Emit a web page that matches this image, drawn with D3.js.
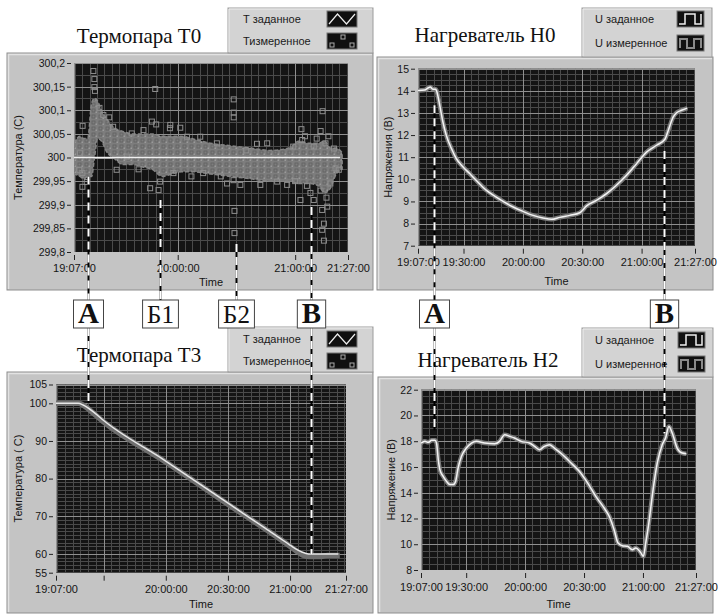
<!DOCTYPE html>
<html><head><meta charset="utf-8">
<script src="https://cdn.jsdelivr.net/npm/d3@7"></script>
<style>body{margin:0;background:#fff}svg{display:block}</style>
</head><body>
<svg id="c" width="718" height="616"></svg>
<script>
// ---------------- DATA ----------------
const timeStart = "19:07:00", timeEnd = "21:27:00";
const ticksHour = ["19:07:00","20:00:00","21:00:00","21:27:00"];
const ticks30 = ["19:07:00","19:30:00","20:00:00","20:30:00","21:00:00","21:27:00"];
const labels30 = ["19:07:00","19:30:00","20:00:00","20:30:00","21:00:00","21:27:00"];
const labelsT3 = ["19:07:00","","20:00:00","20:30:00","21:00:00","21:27:00"];

const yTicksT0 = [299.8,299.85,299.9,299.95,300,300.05,300.1,300.15,300.2];
const yLabelsT0 = ["299,8","299,85","299,9","299,95","300","300,05","300,1","300,15","300,2"];
const yTicksH0 = [7,8,9,10,11,12,13,14,15];
const yTicksT3 = [55,60,70,80,90,100,105];
const yTicksH2 = [8,10,12,14,16,18,20,22];

// T0 (minutes after 19:07) — dense measured band
const t0BandT  = [0,3,5,7,9,10.5,12,14,17,20,25,30,35,40,45,50,55,60,70,80,90,100,110,115,120,125,128,131,134,137];
const t0BandLo = [299.965,299.96,299.955,299.96,299.96,300.0,300.04,300.035,300.01,300.0,299.985,299.985,299.98,299.975,299.96,299.965,299.97,299.97,299.965,299.96,299.955,299.95,299.95,299.945,299.945,299.94,299.925,299.935,299.965,299.975];
const t0BandHi = [300.03,300.045,300.04,300.04,300.115,300.125,300.12,300.1,300.08,300.065,300.055,300.05,300.05,300.05,300.045,300.045,300.045,300.04,300.03,300.025,300.02,300.015,300.02,300.035,300.03,300.03,300.035,300.02,300.02,300.01];
// T0 individual measured squares
const t0PtsT = [4.4,9.9,10.4,10.4,10.7,41.5,81.6,81.6,81.6,82,82,127,126,116.2,127.7,126.8,127.7,126.8,115.7,120.8,4.3,4.3,6.5,38.9,43.2,21.8,44,39.8,42,49,49.2,20,54.3,57.7,64.5,81.5,85,93.5,98.7,95.2,108.9,112,116.6,122.5,128.5,131,132.8,133.6,135.3,129.4,122.5,3.1,2.7,27,29.5,35.5,50.8,66,73,78.2,103.8,118,124,126,129,130,119,113,60,75,88,33,15,18,13];
const t0PtsV = [300.067,300.183,300.166,300.149,300.141,300.145,300.123,300.095,300.085,299.887,299.84,300.098,300.056,300.06,299.824,299.847,299.86,299.889,299.91,299.925,299.967,299.938,299.948,299.935,299.931,299.974,299.949,300.076,300.07,300.062,300.069,300.065,300.063,300.044,300.044,299.952,299.942,300.029,300.03,299.942,299.942,300.023,300.037,300.023,300.03,299.945,300.019,299.977,299.974,299.896,299.91,300.009,299.974,300.002,300.051,300.058,299.967,299.967,300.03,299.945,299.949,300.045,300.04,299.93,299.915,300.045,299.94,299.95,299.96,299.96,300.015,299.975,300.09,300.085,300.105];
// T0 setpoint
const t0SetT = [0,136];
const t0SetV = [300,300];

// H0 heater voltage
const h0T = [0,3.4,5.1,6.2,7.6,8.9,9.3,11,12.6,14.3,16.9,19.4,22.8,26.1,29.5,34.6,39.6,43,48.1,53.1,58.2,63.2,67.5,71.7,76.7,81.8,85.2,90.2,95.3,100.3,105.4,110.5,115.5,120.6,124.8,126.5,129,130.7,133.2,136.1];
const h0V = [14.02,14.04,14.13,14.17,14.07,14.07,14.02,13.34,12.59,11.99,11.39,10.93,10.56,10.26,9.95,9.5,9.2,9.0,8.75,8.55,8.37,8.25,8.19,8.28,8.37,8.49,8.8,9.05,9.35,9.73,10.18,10.71,11.23,11.54,11.81,12.21,12.82,13.01,13.12,13.22];

// T3 thermocouple
const t3SetT = [0,10.7,13.1,17.9,22.7,52.6,82.7,109.1,112.3,115.5,118.7,121.9,136.3];
const t3SetV = [100,100,99.56,97.8,95.56,84.8,73.6,63.8,62.6,61.4,60.5,60,60];
const t3MeasT = [0,11,14,18,23,53,83,109.5,112.5,116,119,122,128,131,137];
const t3MeasV = [100,100,99.2,97.4,95.1,84.4,73.2,63.4,62.2,60.8,59.7,59.3,59.3,59.6,59.6];

// H2 heater voltage
const h2T = [0,2,3.7,5.4,7.1,7.9,8.8,9.6,11.3,13,14.7,16.4,17.6,18.9,20.6,23.1,25.7,28.2,32.4,37.5,40,42.6,45.1,47.6,51,55.2,57.8,60.3,62.8,65.4,67.9,72.1,76.4,80.6,84.8,89,93.2,95.8,98.3,100.3,102.5,105.1,107.6,109.3,111.8,113.2,114.4,116,117.7,120.3,122.8,124.5,126.2,127.9,130.4,133,135.1];
const h2V = [17.86,17.99,17.91,18.07,18.07,17.86,16.57,15.79,15.27,14.88,14.63,14.63,14.88,15.92,16.83,17.47,17.86,17.99,17.86,17.81,17.99,18.51,18.38,18.25,17.99,17.86,17.6,17.34,17.6,17.73,17.47,16.95,16.31,15.66,14.76,13.72,12.82,12.17,11.13,10.1,9.89,9.84,9.58,9.71,9.37,9.06,10.1,11.65,13.72,16.31,17.73,18.25,19.15,18.64,17.47,17.08,17.03];

// annotation markers (minutes on the top panels' time axes)
const marksLeft = ["А","Б1","Б2","В"];
const marksLeftT = [6.9,43.8,82.9,121.1];
const marksLeftTopV = [299.96,299.91,299.817,299.895];
const marksLeftBotV = [100,null,null,60];
const marksRight = ["А","В"];
const marksRightT = [7.9,124.2];
const marksRightTopV = [13.35,11.28];
const marksRightBotV = [18.85,18.6];

// ---------------- DRAWING ----------------
const svg = d3.select("#c");
const SANS = "'Liberation Sans', Arial, sans-serif";
const SERIF = "'Liberation Serif', 'Times New Roman', serif";
const parseT = d3.timeParse("%H:%M:%S");
const T0 = parseT(timeStart), T1 = parseT(timeEnd);
const at = m => new Date(T0.getTime() + m * 60000);
const zip = (a, b) => a.map((d, i) => [d, b[i]]);
let clipId = 0;

// texture for the dense cloud of square markers
const defs = svg.append("defs");
const pat = defs.append("pattern").attr("id", "sq").attr("patternUnits", "userSpaceOnUse")
  .attr("width", 7).attr("height", 6);
pat.append("rect").attr("width", 7).attr("height", 6).attr("fill", "#7d7d7d");
pat.append("rect").attr("x", 1).attr("y", 1).attr("width", 3).attr("height", 3)
  .attr("fill", "none").attr("stroke", "#606060").attr("stroke-width", 0.8);
pat.append("rect").attr("x", 4.5).attr("y", 3.5).attr("width", 1.5).attr("height", 1.5).attr("fill", "#9a9a9a");

function drawPanel(c) {
  const g = svg.append("g");
  g.append("rect").attr("x", c.px).attr("y", c.py).attr("width", c.pw).attr("height", c.ph)
    .attr("fill", "#c4c4c4").attr("stroke", "#8e8e8e").attr("stroke-width", 1);
  g.append("path").attr("d", `M${c.px+1.5},${c.py+c.ph-1}V${c.py+1.5}H${c.px+c.pw-1}`)
    .attr("fill", "none").attr("stroke", "#e2e2e2").attr("stroke-width", 1.5);
  const L = c.legend;
  g.append("rect").attr("x", L.x).attr("y", L.y).attr("width", L.w).attr("height", L.h)
    .attr("fill", "#d3d3d3").attr("stroke", "#9c9c9c");
  g.append("path").attr("d", `M${L.x+1},${L.y+L.h-1}V${L.y+1}H${L.x+L.w-1}`)
    .attr("fill", "none").attr("stroke", "#eeeeee");
  L.labels.forEach((t, i) => {
    g.append("text").attr("x", L.x + L.tx).attr("y", L.y + L.base[i]).text(t)
      .attr("font-family", SANS).attr("font-size", 11).attr("fill", "#1a1a1a");
    const ix = L.x + L.ix, iy = L.y + L.iy[i];
    g.append("rect").attr("x", ix).attr("y", iy).attr("width", L.iw).attr("height", 16)
      .attr("fill", "#101010").attr("stroke", "#777");
    L.icon(g, ix, iy, i, L.iw);
  });
  g.append("text").attr("x", c.titleX).attr("y", c.titleY).attr("text-anchor", "middle")
    .attr("font-family", SERIF).attr("font-size", 21).attr("fill", "#111").text(c.title);

  const x = d3.scaleTime().domain([T0, T1]).range([c.x0, c.x1]);
  const y = d3.scaleLinear().domain(c.yDomain).range([c.y1, c.y0]);
  g.append("rect").attr("x", c.x0).attr("y", c.y0).attr("width", c.x1 - c.x0).attr("height", c.y1 - c.y0)
    .attr("fill", "#141414");
  const id = "clip" + (clipId++);
  g.append("clipPath").attr("id", id).append("rect")
    .attr("x", c.x0).attr("y", c.y0).attr("width", c.x1 - c.x0).attr("height", c.y1 - c.y0);
  const pg = g.append("g").attr("clip-path", `url(#${id})`);

  const hour = parseT("20:00:00");
  const minorX = d3.range(-16, 24).map(k => new Date(hour.getTime() + k * 225000))
    .filter(d => d > T0 && d < T1);
  const [ya, yb] = c.yDomain;
  const minorY = d3.range(Math.round((yb - ya) / c.yMinor) + 1).map(k => ya + k * c.yMinor);
  pg.selectAll(null).data(minorX).join("line")
    .attr("x1", d => Math.round(x(d)) + 0.5).attr("x2", d => Math.round(x(d)) + 0.5)
    .attr("y1", c.y0).attr("y2", c.y1).attr("stroke", "#4a4a4a").attr("stroke-width", 1);
  pg.selectAll(null).data(minorY).join("line")
    .attr("y1", d => Math.round(y(d)) + 0.5).attr("y2", d => Math.round(y(d)) + 0.5)
    .attr("x1", c.x0).attr("x2", c.x1).attr("stroke", "#4a4a4a").attr("stroke-width", 1);
  pg.selectAll(null).data(c.xTicks.map(parseT)).join("line")
    .attr("x1", d => Math.round(x(d)) + 0.5).attr("x2", d => Math.round(x(d)) + 0.5)
    .attr("y1", c.y0).attr("y2", c.y1).attr("stroke", "#8f8f8f").attr("stroke-width", 1);
  pg.selectAll(null).data(c.yTicks).join("line")
    .attr("y1", d => Math.round(y(d)) + 0.5).attr("y2", d => Math.round(y(d)) + 0.5)
    .attr("x1", c.x0).attr("x2", c.x1).attr("stroke", "#8f8f8f").attr("stroke-width", 1);

  const ax = g.append("g").attr("transform", `translate(${c.x0 - 3},0)`)
    .call(d3.axisLeft(y).tickValues(c.yTicks).tickFormat((d, i) => c.yLabels[i]).tickSize(4).tickPadding(2));
  const bx = g.append("g").attr("transform", `translate(0,${c.y1 + 3})`)
    .call(d3.axisBottom(x).tickValues(c.xTicks.map(parseT)).tickFormat((d, i) => c.xLabels[i]).tickSize(5).tickPadding(c.xPad));
  [ax, bx].forEach(a => {
    a.select(".domain").remove();
    a.selectAll("line").attr("stroke", "#222");
    a.selectAll("text").attr("font-family", SANS).attr("fill", "#151515");
  });
  ax.selectAll("text").attr("font-size", 10.5);
  bx.selectAll("text").attr("font-size", 11);
  g.append("text").attr("transform", `translate(${c.yTitleX},${(c.y0 + c.y1) / 2}) rotate(-90)`)
    .attr("text-anchor", "middle").attr("font-family", SANS).attr("font-size", 11)
    .attr("fill", "#151515").text(c.yTitle);
  g.append("text").attr("x", (c.x0 + c.x1) / 2).attr("y", c.timeY).attr("text-anchor", "middle")
    .attr("font-family", SANS).attr("font-size", 11).attr("fill", "#151515").text("Time");
  return { x, y, pg };
}

const iconWave = (g, ix, iy, i, w) => {
  if (i === 0) {
    g.append("polyline").attr("points", [[ix+2,iy+13],[ix+w*0.35,iy+3],[ix+w*0.65,iy+13],[ix+w-2,iy+3]].join(" "))
      .attr("fill", "none").attr("stroke", "#eee").attr("stroke-width", 1.2);
  } else {
    [[3,10],[w/2-1,2],[w-7,10]].forEach(p => g.append("rect").attr("x", ix + p[0]).attr("y", iy + p[1])
      .attr("width", 4).attr("height", 4).attr("fill", "none").attr("stroke", "#aaa"));
  }
};
const iconStep = (g, ix, iy, i, w) => {
  if (i === 0) {
    g.append("polyline").attr("points", [[ix+2,iy+13],[ix+8,iy+13],[ix+8,iy+3],[ix+18,iy+3],[ix+18,iy+13],[ix+w-3,iy+13],[ix+w-3,iy+3]].join(" "))
      .attr("fill", "none").attr("stroke", "#eee").attr("stroke-width", 1.5);
  } else {
    g.append("polyline").attr("points", [[ix+3,iy+13],[ix+3,iy+4],[ix+10,iy+4],[ix+10,iy+13],[ix+17,iy+13],[ix+17,iy+4],[ix+w-3,iy+4],[ix+w-3,iy+13]].join(" "))
      .attr("fill", "none").attr("stroke", "#8a8a8a").attr("stroke-width", 2);
  }
};

// ---- Panel T0 ----
const P1 = drawPanel({
  px: 7, py: 53, pw: 366, ph: 237, x0: 74, x1: 348, y0: 63, y1: 252,
  yDomain: [299.8, 300.2], yTicks: yTicksT0, yLabels: yLabelsT0, yMinor: 0.025,
  xTicks: ticksHour, xLabels: ticksHour, xPad: 4,
  yTitle: "Температура (С)", yTitleX: 22, timeY: 286,
  title: "Термопара Т0", titleX: 139, titleY: 43,
  legend: { x: 228, y: 8, w: 145, h: 45, tx: 15, ix: 99, iw: 30, base: [15, 37], iy: [3, 25],
    labels: ["Т заданное", "Тизмеренное"], icon: iconWave }
});
{
  const { x, y, pg } = P1;
  pg.append("path").datum(t0BandT.map((t, i) => [t, t0BandLo[i], t0BandHi[i]]))
    .attr("d", d3.area().x(d => x(at(d[0]))).y0(d => y(d[1])).y1(d => y(d[2])).curve(d3.curveMonotoneX))
    .attr("fill", "url(#sq)").attr("stroke", "#858585").attr("stroke-width", 1.5).attr("stroke-dasharray", "4,2");
  pg.selectAll(null).data(zip(t0PtsT, t0PtsV)).join("rect")
    .attr("x", d => x(at(d[0])) - 2.5).attr("y", d => y(d[1]) - 2.5).attr("width", 5).attr("height", 5)
    .attr("fill", "none").attr("stroke", "#8e8e8e").attr("stroke-width", 1);
  pg.append("path").datum(zip(t0SetT, t0SetV))
    .attr("d", d3.line().x(d => x(at(d[0]))).y(d => y(d[1])))
    .attr("stroke", "#f0f0f0").attr("stroke-width", 1.6).attr("fill", "none");
}

// ---- Panel H0 ----
const P2 = drawPanel({
  px: 377, py: 57, pw: 336, ph: 233, x0: 418, x1: 695, y0: 68.7, y1: 245.7,
  yDomain: [7, 15], yTicks: yTicksH0, yLabels: yTicksH0.map(String), yMinor: 0.25,
  xTicks: ticks30, xLabels: labels30, xPad: 5,
  yTitle: "Напряжения (В)", yTitleX: 392, timeY: 285,
  title: "Нагреватель Н0", titleX: 485, titleY: 42,
  legend: { x: 582, y: 8, w: 130, h: 49, tx: 13, ix: 95, iw: 27, base: [15, 39], iy: [3, 27],
    labels: ["U заданное", "U измеренное"], icon: iconStep }
});
{
  const { x, y, pg } = P2;
  const ln = d3.line().x(d => x(at(d[0]))).y(d => y(d[1])).curve(d3.curveMonotoneX);
  pg.append("path").datum(zip(h0T, h0V)).attr("d", ln).attr("fill", "none")
    .attr("stroke", "#7a7a7a").attr("stroke-width", 4.5);
  pg.append("path").datum(zip(h0T, h0V)).attr("d", ln).attr("fill", "none")
    .attr("stroke", "#f4f4f4").attr("stroke-width", 1.5);
}

// ---- Panel T3 ----
const P3 = drawPanel({
  px: 7, py: 372, pw: 366, ph: 241, x0: 56, x1: 346, y0: 384.5, y1: 572.7,
  yDomain: [55, 105], yTicks: yTicksT3, yLabels: yTicksT3.map(String), yMinor: 1,
  xTicks: ticks30, xLabels: labelsT3, xPad: 5,
  yTitle: "Температура ( С)", yTitleX: 22, timeY: 608,
  title: "Термопара Т3", titleX: 139, titleY: 362,
  legend: { x: 228, y: 327, w: 145, h: 45, tx: 15, ix: 99, iw: 30, base: [16, 38], iy: [4, 26],
    labels: ["Т заданное", "Тизмеренное"], icon: iconWave }
});
{
  const { x, y, pg } = P3;
  const ln = d3.line().x(d => x(at(d[0]))).y(d => y(d[1])).curve(d3.curveMonotoneX);
  pg.append("path").datum(zip(t3MeasT, t3MeasV)).attr("d", ln).attr("fill", "none")
    .attr("stroke", "#6f6f6f").attr("stroke-width", 5.5);
  pg.append("path").datum(zip(t3SetT, t3SetV)).attr("d", ln).attr("fill", "none")
    .attr("stroke", "#e8e8e8").attr("stroke-width", 1.5);
}

// ---- Panel H2 ----
const P4 = drawPanel({
  px: 378, py: 377, pw: 335, ph: 236, x0: 421, x1: 696, y0: 389.7, y1: 570,
  yDomain: [8, 22], yTicks: yTicksH2, yLabels: yTicksH2.map(String), yMinor: 0.5,
  xTicks: ticks30, xLabels: labels30, xPad: 5,
  yTitle: "Напряжение (В)", yTitleX: 395, timeY: 608,
  title: "Нагреватель Н2", titleX: 488, titleY: 367,
  legend: { x: 582, y: 328, w: 131, h: 49, tx: 13, ix: 96, iw: 27, base: [16, 40], iy: [4, 28],
    labels: ["U заданное", "U измеренное"], icon: iconStep }
});
{
  const { x, y, pg } = P4;
  const ln = d3.line().x(d => x(at(d[0]))).y(d => y(d[1])).curve(d3.curveMonotoneX);
  pg.append("path").datum(zip(h2T, h2V)).attr("d", ln).attr("fill", "none")
    .attr("stroke", "#7a7a7a").attr("stroke-width", 4.5);
  pg.append("path").datum(zip(h2T, h2V)).attr("d", ln).attr("fill", "none")
    .attr("stroke", "#f4f4f4").attr("stroke-width", 1.5);
}

// ---- annotations ----
const BOX_TOP = 300, BOX_BOT = 328;
function dashLine(xp, ya, yb) {
  svg.append("line").attr("x1", xp).attr("x2", xp).attr("y1", ya).attr("y2", yb)
    .attr("stroke", "#000").attr("stroke-width", 2);
  svg.append("line").attr("x1", xp).attr("x2", xp).attr("y1", ya).attr("y2", yb)
    .attr("stroke", "#fff").attr("stroke-width", 2).attr("stroke-dasharray", "8,5");
}
function marks(names, ts, topV, botV, top, bot) {
  names.forEach((n, i) => {
    const xp = Math.round(top.x(at(ts[i]))) + 0.5;
    dashLine(xp, top.y(topV[i]), BOX_TOP);
    if (botV[i] !== null) dashLine(xp, BOX_BOT, bot.y(botV[i]));
    const bold = n.length === 1;
    const t = svg.append("text").attr("x", xp).attr("y", BOX_BOT - 5).attr("text-anchor", "middle")
      .attr("font-family", SERIF).attr("font-size", bold ? 29 : 25)
      .attr("font-weight", bold ? "bold" : "normal").attr("fill", "#111").text(n);
    const bb = t.node().getBBox();
    const w = bb.width + 9;
    svg.insert("rect", () => t.node()).attr("x", xp - w / 2).attr("y", BOX_TOP).attr("width", w)
      .attr("height", BOX_BOT - BOX_TOP).attr("fill", "#fff").attr("stroke", "#444").attr("stroke-width", 1);
  });
}
marks(marksLeft, marksLeftT, marksLeftTopV, marksLeftBotV, P1, P3);
marks(marksRight, marksRightT, marksRightTopV, marksRightBotV, P2, P4);
</script>
</body></html>
